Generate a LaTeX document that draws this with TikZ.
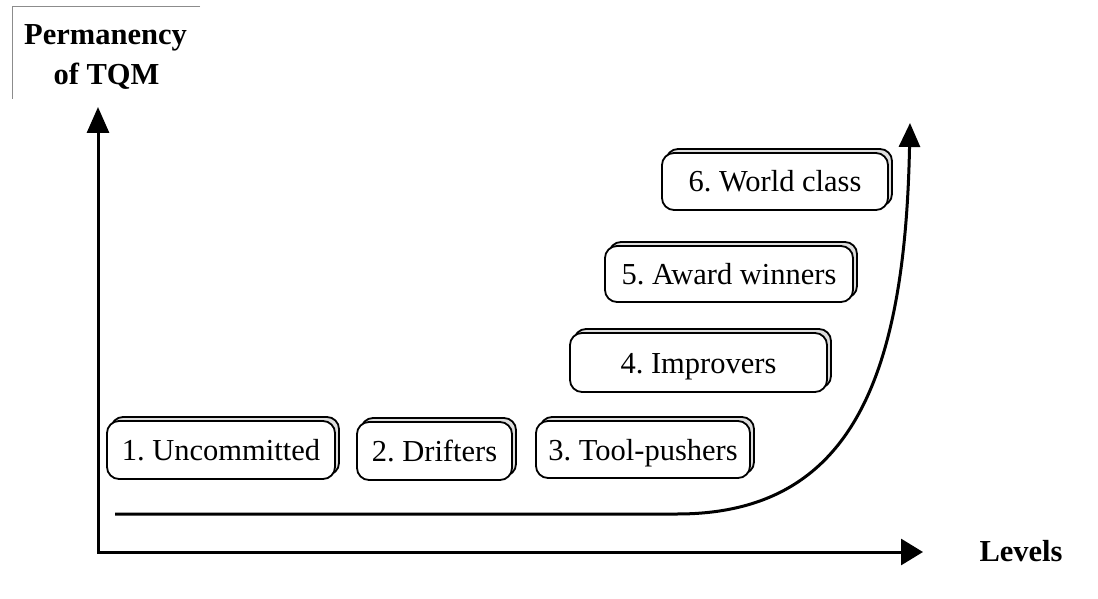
\documentclass[tikz,border=0pt]{standalone}
\usepackage{fontspec}
\setmainfont{Liberation Serif}
\usetikzlibrary{arrows.meta,shadows}
\frenchspacing
\begin{document}
\begin{tikzpicture}[x=1pt,y=-1pt,
  lvl/.style={draw=black, line width=1.8pt, rounded corners=12pt, fill=white,
    inner sep=0pt, text height=21pt, text depth=0pt,
    font=\fontsize{30.5}{36}\selectfont,
    copy shadow={shadow xshift=4pt, shadow yshift=4pt, fill=black!13, draw=black, line width=1.8pt}},
  axis/.style={line width=3pt},
  lab/.style={font=\bfseries\fontsize{30.5}{36}\selectfont, inner sep=0pt, anchor=base},
  frameline/.style={draw=black!45, line width=1pt}]
\useasboundingbox (0,0) rectangle (1098,599);

% label frame
\coordinate (fa) at (200,7);
\coordinate (fb) at (12,7);
\coordinate (fc) at (12,99);
\draw[frameline] (fa) -- (fb) -- (fc);

% axis labels
\node[lab] (ylab1) at (105.5,45) {Permanency};
\node[lab] (ylab2) at (106.5,85) {of TQM};
\node[lab] (xlab) at (1021,561) {Levels};

% axes
\coordinate (o) at (98,552);
\coordinate (ytip) at (98,107);
\coordinate (xtip) at (923,552);
\draw[axis, {Triangle[length=26pt,width=22pt]}-{Triangle[length=22pt,width=26pt]}] (ytip) -- (o) -- (xtip);

% growth curve
\coordinate (cs) at (115,514);
\coordinate (ck) at (677,514);
\coordinate (ct) at (910,123);
\draw[axis, -{Triangle[length=24pt,width=21pt]}] (cs) -- (ck) .. controls (850,514) and (905,380) .. (ct);

% level boxes
\node[lvl, minimum width=228pt, minimum height=58pt] (l1) at (221,450) {1. Uncommitted};
\node[lvl, minimum width=155pt, minimum height=58pt] (l2) at (434.5,451) {2. Drifters};
\node[lvl, minimum width=214pt, minimum height=57pt] (l3) at (643,449.5) {3. Tool-pushers};
\node[lvl, minimum width=257pt, minimum height=59pt] (l4) at (698.5,362.5) {4. Improvers};
\node[lvl, minimum width=248pt, minimum height=56pt] (l5) at (729,274) {5. Award winners};
\node[lvl, minimum width=226pt, minimum height=57pt] (l6) at (775,181.5) {6. World class};
\end{tikzpicture}
\end{document}
